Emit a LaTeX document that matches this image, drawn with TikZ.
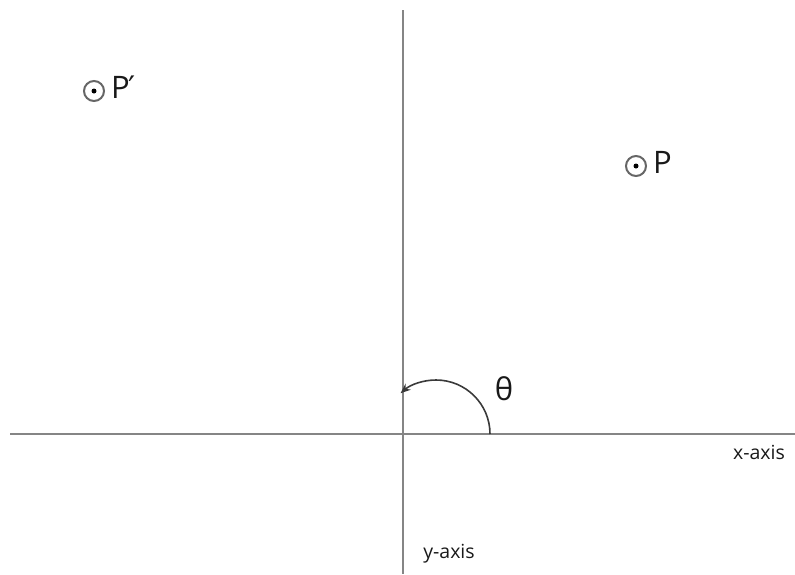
\documentclass[tikz,border=0pt]{standalone}
\usepackage{fontspec}
\setmainfont{Open Sans}
\newfontfamily\primefont{DejaVu Sans}
\usetikzlibrary{arrows.meta}
\definecolor{axisgray}{HTML}{858585}
\definecolor{arcgray}{HTML}{3A3A3A}
\begin{document}
\begin{tikzpicture}[x=1pt,y=-1pt,
  axis/.style={draw=axisgray,line width=2.4pt},
  ptring/.style={circle,draw=black!60,line width=2pt,minimum size=20pt,inner sep=0pt},
  ptdot/.style={circle,fill=black,minimum size=5pt,inner sep=0pt},
  biglabel/.style={font=\fontsize{31}{33}\selectfont,inner sep=0pt,text=black!90},
  axlabel/.style={font=\fontsize{19.5}{21}\selectfont,inner sep=0pt,text=black!90}]
\useasboundingbox (0,0) rectangle (795,574);
% axes
\coordinate (xl) at (10,434);
\coordinate (xr) at (795,434);
\coordinate (yt) at (403,10);
\coordinate (yb) at (403,574);
\draw[axis] (xl) -- (xr);
\draw[axis] (yt) -- (yb);
% angle arc
\coordinate (arcstart) at (490,434);
\draw[arcgray,line width=1.6pt,-{Stealth[length=10pt,width=8pt]}] (arcstart) arc[start angle=0,end angle=-131,radius=54];
\node[biglabel] (theta) at (504,389) {θ};
% points
\node[ptring] (pp) at (94,91) {};
\node[ptdot] at (pp) {};
\node[biglabel,anchor=west] (ppl) at (111,87) {P\kern-1pt{\primefont ′}};
\node[ptring] (p) at (636,166) {};
\node[ptdot] at (p) {};
\node[biglabel,anchor=west] (pl) at (653,162) {P};
% axis labels
\node[axlabel] (xlab) at (759,452) {x-axis};
\node[axlabel] (ylab) at (449,554) {y-axis};
\end{tikzpicture}
\end{document}
